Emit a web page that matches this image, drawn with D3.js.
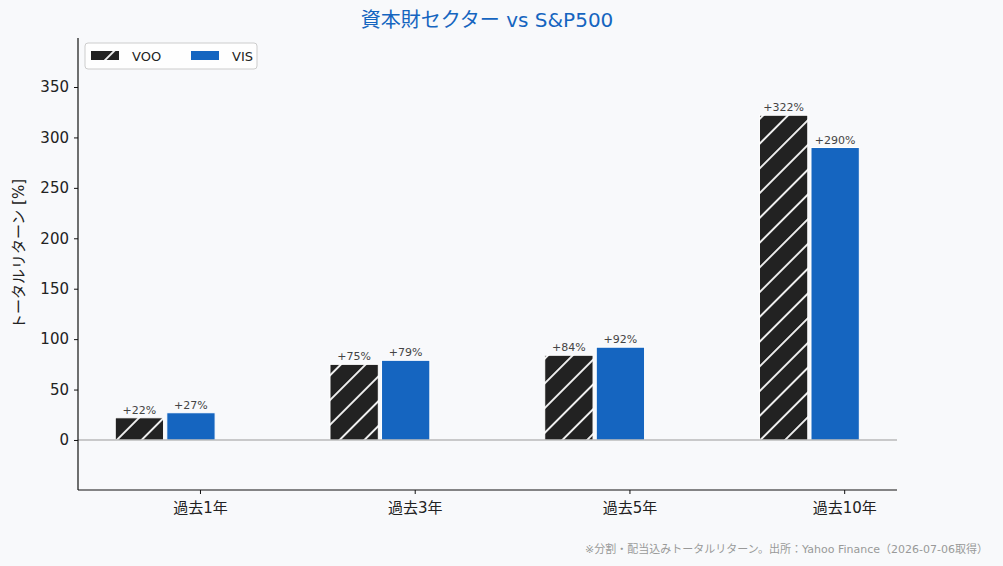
<!DOCTYPE html>
<html>
<head>
<meta charset="utf-8">
<title>資本財セクター vs S&P500</title>
<script src="https://d3js.org/d3.v7.min.js"></script>
<style>
  body { margin: 0; background: #f8f9fb; }
  svg { display: block; font-family: "DejaVu Sans", "Noto Sans CJK JP", sans-serif; }
</style>
</head>
<body>
<svg id="chart" width="1003" height="566"></svg>
<script>
// データ
const categories = ['過去1年', '過去3年', '過去5年', '過去10年'];
const vooValues = [22, 75, 84, 322];
const visValues = [27, 79, 92, 290];
const seriesNames = ['VOO', 'VIS'];
const yTicks = [0, 50, 100, 150, 200, 250, 300, 350];

const svg = d3.select('#chart');
const W = 1003, H = 566;
const plot = { left: 78, right: 897, top: 38, bottom: 490 };

svg.append('rect').attr('width', W).attr('height', H).attr('fill', '#f8f9fb');

// 斜線パターン
const defs = svg.append('defs');
const pat = defs.append('pattern')
  .attr('id', 'hatch')
  .attr('patternUnits', 'userSpaceOnUse')
  .attr('width', 17.5).attr('height', 17.5)
  .attr('patternTransform', 'rotate(45)');
pat.append('rect').attr('width', 17.5).attr('height', 17.5).attr('fill', '#222222');
pat.append('line').attr('x1', 8.75).attr('y1', 0).attr('x2', 8.75).attr('y2', 17.5)
  .attr('stroke', '#eeeeee').attr('stroke-width', 2);

// スケール
const x = d3.scaleLinear()
  .domain([-0.568, 3.246])
  .range([plot.left, plot.right]);
const y = d3.scaleLinear()
  .domain([-49.6, 398.6])
  .range([plot.bottom, plot.top]);

const barW = 0.225;
const series = [
  { name: 'VOO', values: vooValues, offset: -0.282, fill: 'url(#hatch)' },
  { name: 'VIS', values: visValues, offset: -0.042, fill: '#1565c0' }
];

const g = svg.append('g');

series.forEach(s => {
  const bars = g.selectAll('.bar-' + s.name)
    .data(s.values)
    .enter();
  bars.append('rect')
    .attr('class', 'bar-' + s.name)
    .attr('x', (d, i) => x(i + s.offset - barW / 2))
    .attr('y', d => y(d))
    .attr('width', x(barW) - x(0))
    .attr('height', d => y(0) - y(d))
    .attr('fill', s.fill)
    .attr('stroke', '#ffffff')
    .attr('stroke-width', 1);
  bars.append('text')
    .attr('x', (d, i) => x(i + s.offset))
    .attr('y', d => y(d) - 4)
    .attr('text-anchor', 'middle')
    .attr('font-size', 11)
    .attr('fill', '#444')
    .text(d => '+' + d + '%');
});

// ゼロライン
g.append('line')
  .attr('x1', plot.left).attr('x2', plot.right)
  .attr('y1', y(0)).attr('y2', y(0))
  .attr('stroke', '#999').attr('stroke-width', 1.2);

// 軸
const yAxis = svg.append('g')
  .attr('transform', `translate(${plot.left},0)`)
  .call(d3.axisLeft(y).tickValues(yTicks).tickSize(4).tickPadding(5));
const xAxis = svg.append('g')
  .attr('transform', `translate(0,${plot.bottom})`)
  .call(d3.axisBottom(x).tickValues(d3.range(categories.length))
    .tickFormat(i => categories[i]).tickSize(4).tickPadding(8));

[yAxis, xAxis].forEach(a => {
  a.select('.domain').attr('stroke', '#111').attr('stroke-width', 1.2);
  a.selectAll('.tick line').attr('stroke', '#111');
  a.selectAll('.tick text')
    .attr('font-size', 15)
    .attr('fill', '#222')
    .attr('font-family', '"DejaVu Sans", "Noto Sans CJK JP", sans-serif');
});
// 端のはみ出しを消す
yAxis.select('.domain').attr('d', `M0,${plot.top}V${plot.bottom}`);
xAxis.select('.domain').attr('d', `M${plot.left},0H${plot.right}`);

// タイトル
svg.append('text')
  .attr('x', 487)
  .attr('y', 27)
  .attr('text-anchor', 'middle')
  .attr('font-size', 20)
  .attr('fill', '#1565c0')
  .text('資本財セクター vs S&P500');

// Y軸ラベル
svg.append('text')
  .attr('transform', 'translate(24,254) rotate(-90)')
  .attr('text-anchor', 'middle')
  .attr('font-size', 15)
  .attr('fill', '#222')
  .text('トータルリターン [%]');

// 凡例
const leg = svg.append('g').attr('transform', 'translate(85,43)');
leg.append('rect')
  .attr('width', 172).attr('height', 26).attr('rx', 3)
  .attr('fill', '#ffffff').attr('fill-opacity', 0.8)
  .attr('stroke', '#cccccc');
series.forEach((s, i) => {
  const lx = 6 + i * 100;
  leg.append('rect')
    .attr('x', lx).attr('y', 8).attr('width', 28).attr('height', 9)
    .attr('fill', s.fill);
  leg.append('text')
    .attr('x', lx + 41).attr('y', 18)
    .attr('font-size', 13)
    .attr('fill', '#222')
    .text(seriesNames[i]);
});

// 注記
svg.append('text')
  .attr('x', 988).attr('y', 553)
  .attr('text-anchor', 'end')
  .attr('font-size', 11)
  .attr('fill', '#999')
  .text('※分割・配当込みトータルリターン。出所：Yahoo Finance（2026-07-06取得）');
</script>
</body>
</html>
